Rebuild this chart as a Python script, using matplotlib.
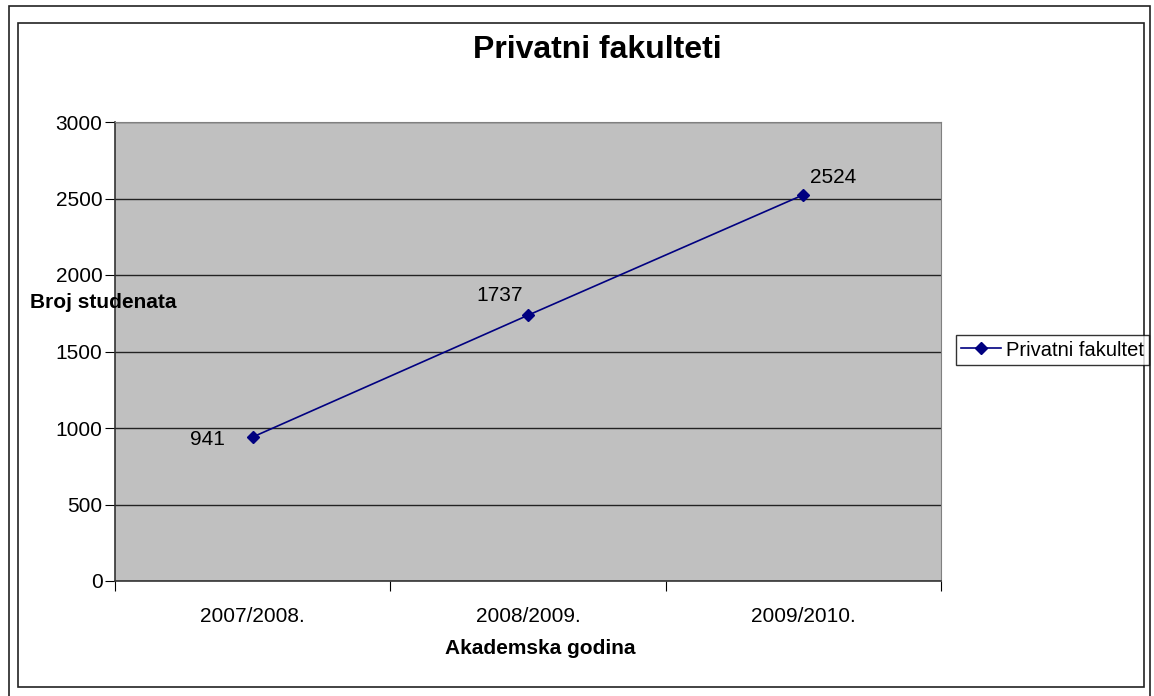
import matplotlib.pyplot as plt
from matplotlib.patches import Rectangle

years = ['2007/2008.', '2008/2009.', '2009/2010.']
students = [941, 1737, 2524]
series_name = 'Privatni fakultet'

plt.rcParams['font.family'] = ['Liberation Sans', 'DejaVu Sans']

W, H = 1154, 696
fig = plt.figure(figsize=(W / 100, H / 100), dpi=100)

# two chart frames
fig.patches.append(Rectangle((9 / W, -0.05), 1141 / W, 1.05 - 6 / H,
                             transform=fig.transFigure, fill=False,
                             edgecolor='#222222', lw=1.2))
fig.patches.append(Rectangle((18 / W, 9 / H), 1126 / W, 664 / H,
                             transform=fig.transFigure, fill=False,
                             edgecolor='#222222', lw=1.2))

ax = fig.add_axes([115 / W, 1 - 581 / H, 826 / W, 459 / H])
ax.set_facecolor('#c0c0c0')
x = list(range(len(years)))
ax.plot(x, students, color='#000080', lw=1.2, marker='D', ms=6,
        label=series_name, zorder=3)

ax.set_xlim(-0.5, len(years) - 0.5)
ax.set_ylim(0, 3000)
ax.set_yticks(range(0, 3001, 500))
ax.yaxis.grid(True, color='#222222', lw=1)
ax.set_axisbelow(True)

ax.set_xticks([i - 0.5 for i in range(len(years) + 1)])
ax.set_xticklabels([])
ax.set_xticks(x, minor=True)
ax.set_xticklabels(years, minor=True)
ax.tick_params(axis='x', which='minor', length=0, pad=19, labelsize=15)
ax.tick_params(axis='x', which='major', length=7, direction='out')
ax.tick_params(axis='y', length=7, direction='out', pad=2, labelsize=15)

for side in ['top', 'right']:
    ax.spines[side].set_color('#808080')
for side in ['left', 'bottom']:
    ax.spines[side].set_color('#333333')
    ax.spines[side].set_linewidth(1.2)

# data labels
offsets = [(-45, -2), (-28, 20), (30, 17)]
for xi, v, (dx, dy) in zip(x, students, offsets):
    ax.annotate(str(v), (xi, v), xytext=(dx * 0.72, dy * 0.72),
                textcoords='offset points', ha='center', va='center',
                fontsize=15)

fig.text(597 / W, 1 - 50 / H, 'Privatni fakulteti', ha='center',
         va='center', fontsize=23, fontweight='bold')
fig.text(540 / W, 1 - 648 / H, 'Akademska godina', ha='center',
         va='center', fontsize=15, fontweight='bold')
fig.text(30 / W, 1 - 303 / H, 'Broj studenata', ha='left',
         va='center', fontsize=15, fontweight='bold', zorder=5)

leg = fig.legend(loc='center left', bbox_to_anchor=(956 / W, 1 - 350 / H),
                 fontsize=14.5, frameon=True, fancybox=False, edgecolor='black',
                 borderpad=0.25, handlelength=2.0, handletextpad=0.25,
                 borderaxespad=0)
leg.get_frame().set_linewidth(1)

fig.savefig('out.png', dpi=100)
